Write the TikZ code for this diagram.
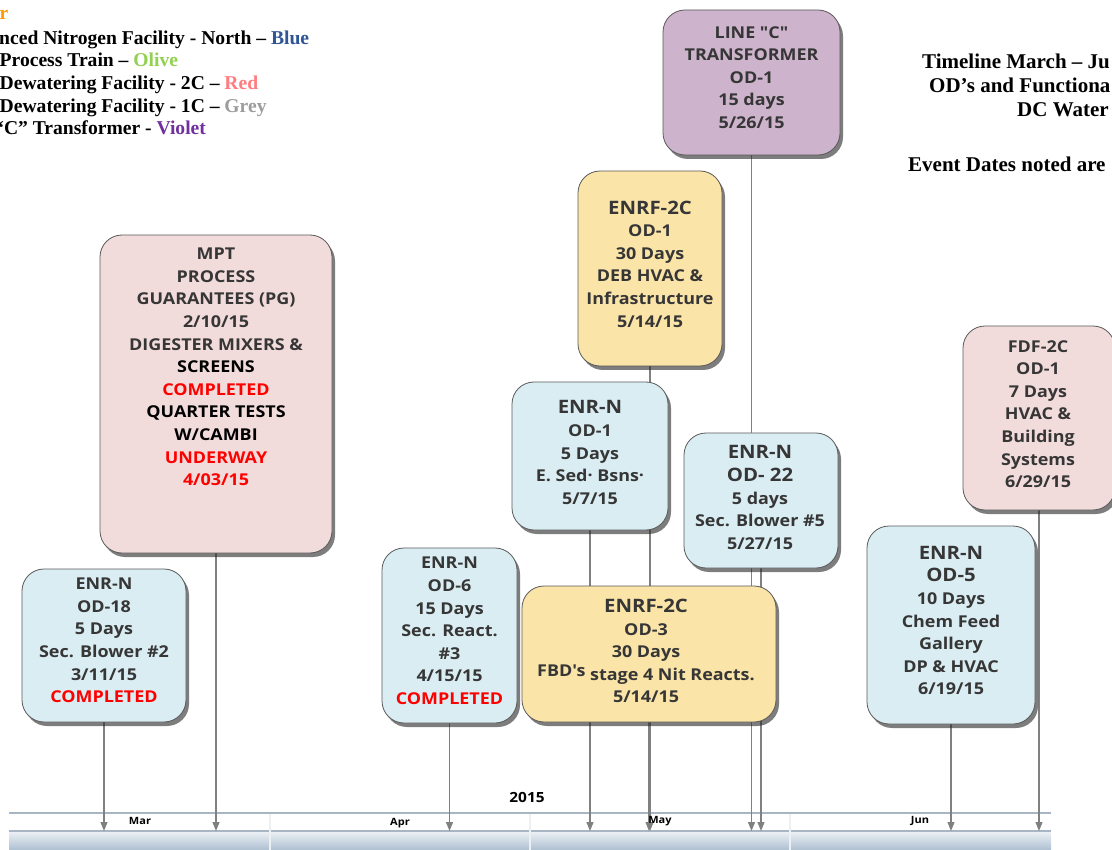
\documentclass[tikz,border=0pt]{standalone}
\usepackage{fontspec}
\setmainfont{Liberation Serif}
\newfontfamily\boxfont{Open Sans}[FakeStretch=1.1]
\usetikzlibrary{positioning,shadows,arrows.meta}

\definecolor{enrBlue}{HTML}{DAEDF3}
\definecolor{fdfPink}{HTML}{F2DCDB}
\definecolor{enrfGold}{HTML}{FBE4A8}
\definecolor{lineViolet}{HTML}{CDB4CC}
\definecolor{boxLine}{HTML}{5A5A5A}
\definecolor{boxText}{HTML}{363636}
\definecolor{doneRed}{HTML}{FF0000}
\definecolor{connGray}{HTML}{808080}
\definecolor{barLine}{HTML}{A7B5C4}
\definecolor{barTop}{HTML}{EEF2F6}
\definecolor{barBot}{HTML}{AEBFD1}
\definecolor{legOrange}{HTML}{FF9A00}
\definecolor{legBlue}{HTML}{2F5597}
\definecolor{legOlive}{HTML}{92D050}
\definecolor{legRed}{HTML}{FF7C80}
\definecolor{legGrey}{HTML}{9C9C9C}
\definecolor{legViolet}{HTML}{7030A0}

\pgfdeclarelayer{background}
\pgfsetlayers{background,main}

\newcommand{\redln}[1]{\textcolor{doneRed}{#1}}
\newcommand{\blkln}[1]{\textcolor{black}{#1}}
\newcommand{\hd}[1]{{\fontsize{18.5}{22.6}\selectfont #1}}
\newcommand{\sq}{\symbol{"27}}
\newcommand{\dq}{\symbol{"22}}

\tikzset{
    tbox/.style={draw=boxLine, line width=0.8pt, rounded corners=22pt, inner sep=0pt,
        drop shadow={shadow xshift=3pt, shadow yshift=-4pt, opacity=0.6, fill=black!85}},
    btext/.style={align=center, text=boxText, inner sep=0pt,
        font=\boxfont\bfseries\fontsize{16.3}{22.6}\selectfont},
    conn/.style={draw=connGray, line width=1.2pt, -{Triangle[length=9pt,width=7pt]}},
    legend/.style={anchor=base west, inner sep=0pt, font=\bfseries\fontsize{19.6}{23}\selectfont},
    ttl/.style={anchor=base west, inner sep=0pt, font=\bfseries\fontsize{21}{24}\selectfont},
    month/.style={inner sep=0pt, font=\boxfont\bfseries\fontsize{10}{11}\selectfont},
    barline/.style={draw=barLine, line width=1.6pt},
}

\begin{document}
\begin{tikzpicture}[x=1pt,y=1pt]
    \useasboundingbox (0,0) rectangle (1112,-850);

    % Legend (top left)
    \node[legend, text=legOrange] (legR) at (-0.5,-20) {r};
    \node[legend] (legN) at (-1,-44.3) {nced Nitrogen Facility - North – \textcolor{legBlue}{Blue}};
    \node[legend] (legP) at (-0.5,-66.7) {Process Train – \textcolor{legOlive}{Olive}};
    \node[legend] (leg2C) at (-0.5,-89.3) {Dewatering Facility - 2C – \textcolor{legRed}{Red}};
    \node[legend] (leg1C) at (-0.5,-112.3) {Dewatering Facility - 1C – \textcolor{legGrey}{Grey}};
    \node[legend] (legC) at (-6,-135) {“C” Transformer - \textcolor{legViolet}{Violet}};

    % Title (top right)
    \node[ttl] (ttl1) at (922,-69) {Timeline March – Ju};
    \node[ttl] (ttl2) at (929,-93) {OD’s and Functiona};
    \node[ttl] (ttl3) at (1017,-117) {DC Water};
    \node[ttl] (ttl4) at (908,-172) {Event Dates noted are};

    % Timeline bar
    \begin{pgfonlayer}{background}
        \shade[top color=barTop, bottom color=barBot] (9,-831) rectangle (1051,-850);
        \draw[barline] (9,-813) -- (1051,-813);
        \draw[barline] (9,-831) -- (1051,-831);
        \foreach \x in {270,530,790}
            \draw[white!80!barLine, line width=1.2pt] (\x,-814) -- (\x,-850);
    \end{pgfonlayer}
    \coordinate (axis) at (0,-831);
    \node[month] (mar) at (140,-821) {Mar};
    \node[month] (apr) at (400,-823) {Apr};
    \node[month] (may) at (660,-821) {May};
    \node[month] (jun) at (920,-821) {Jun};
    \node[month, font=\boxfont\bfseries\fontsize{14}{16}\selectfont] (yr) at (527,-797) {2015};

    % Event boxes
    \node[tbox, fill=enrBlue, minimum width=164pt, minimum height=153pt] (od18) at (104,-645.5) {};
    \node[btext] (od18t) at (104,-640.5) {ENR-N\\OD-18\\5 Days\\Sec. Blower \#2\\3/11/15\\\redln{COMPLETED}};

    \node[tbox, fill=fdfPink, minimum width=232pt, minimum height=318pt] (mpt) at (216,-394) {};
    \node[btext] (mptt) at (216,-367) {MPT\\PROCESS\\GUARANTEES (PG)\\2/10/15\\DIGESTER MIXERS \&\\\blkln{SCREENS}\\\redln{COMPLETED}\\\blkln{QUARTER TESTS}\\\blkln{W/CAMBI}\\\redln{UNDERWAY}\\\redln{4/03/15}};

    \node[tbox, fill=enrBlue, minimum width=135pt, minimum height=175pt] (od6) at (449.5,-635.5) {};
    \node[btext] (od6t) at (449.5,-631) {ENR-N\\OD-6\\15 Days\\Sec. React.\\\#3\\4/15/15\\\redln{COMPLETED}};

    \node[tbox, fill=enrBlue, minimum width=156pt, minimum height=148pt] (od1n) at (590,-456) {};
    \node[btext] (od1nt) at (590,-452.5) {\hd{ENR-N}\\OD-1\\5 Days\\E. Sed\raisebox{5pt}{.} Bsns\raisebox{5pt}{.}\\5/7/15};

    \node[tbox, fill=enrfGold, minimum width=144pt, minimum height=195pt] (deb) at (650,-268.5) {};
    \node[btext] (debt) at (650,-264) {\hd{ENRF-2C}\\OD-1\\30 Days\\DEB HVAC \&\\Infrastructure\\5/14/15};

    \node[tbox, fill=lineViolet, minimum width=177pt, minimum height=145pt] (linec) at (751.5,-82.5) {};
    \node[btext] (linect) at (751.5,-77.5) {LINE \dq C\dq\\TRANSFORMER\\OD-1\\15 days\\5/26/15};

    \node[tbox, fill=enrBlue, minimum width=154pt, minimum height=135pt] (od22) at (761,-500.5) {};
    \node[btext] (od22t) at (760,-497.5) {\hd{ENR-N}\\\hd{OD- 22}\\5 days\\Sec. Blower \#5\\5/27/15};

    \node[tbox, fill=enrfGold, minimum width=254pt, minimum height=136pt] (od3) at (649,-654) {};
    \node[btext] (od3t) at (646,-651) {\hd{ENRF-2C}\\OD-3\\30 Days\\\raisebox{4pt}{FBD\sq s} stage 4 Nit Reacts.\\5/14/15};

    \node[tbox, fill=enrBlue, minimum width=168pt, minimum height=198pt] (od5) at (951,-625) {};
    \node[btext] (od5t) at (951,-620.5) {\hd{ENR-N}\\\hd{OD-5}\\10 Days\\Chem Feed\\Gallery\\DP \& HVAC\\6/19/15};

    \node[tbox, fill=fdfPink, minimum width=152pt, minimum height=184pt] (fdf) at (1039,-418) {};
    \node[btext] (fdft) at (1038,-414) {FDF-2C\\OD-1\\7 Days\\HVAC \&\\Building\\Systems\\6/29/15};

    % Drop lines to the timeline
    \begin{pgfonlayer}{background}
        \foreach \b in {od18,mpt,od6,od1n,deb,linec,od22,od3,od5,fdf}
            \draw[conn] (\b.south) -- (\b.south |- axis);
    \end{pgfonlayer}
\end{tikzpicture}
\end{document}
